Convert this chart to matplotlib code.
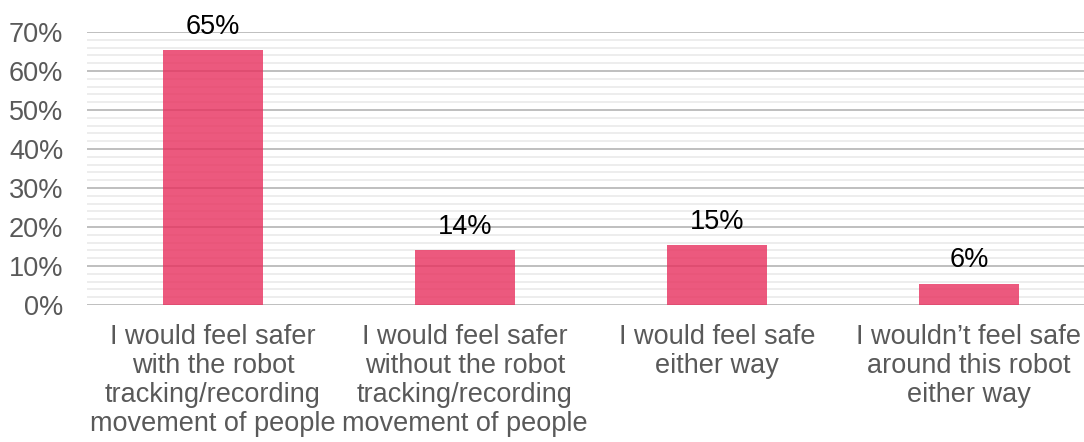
import matplotlib
matplotlib.use("Agg")
import matplotlib.pyplot as plt
from matplotlib.ticker import MultipleLocator, PercentFormatter

plt.rcParams['font.family'] = ['Liberation Sans', 'DejaVu Sans']

categories = [
    "I would feel safer\nwith the robot\ntracking/recording\nmovement of people",
    "I would feel safer\nwithout the robot\ntracking/recording\nmovement of people",
    "I would feel safe\neither way",
    "I wouldn\u2019t feel safe\naround this robot\neither way",
]
values = [65.4, 14.0, 15.3, 5.5]
labels = ["65%", "14%", "15%", "6%"]

fig = plt.figure(figsize=(10.84, 4.42), dpi=100)
ax = fig.add_axes([87 / 1084, 1 - 305 / 442, 1008 / 1084, 273 / 442])

x = range(len(categories))
ax.bar(x, values, width=0.4, color="#E8305E", alpha=0.8, zorder=3)

for xi, v, lab in zip(x, values, labels):
    ax.text(xi, v + 2.6, lab, ha="center", va="bottom", fontsize=19.5, color="black",
            zorder=4, clip_on=False)

ax.set_xlim(-0.5, 3.5)
ax.set_ylim(0, 70)
ax.yaxis.set_major_locator(MultipleLocator(10))
ax.yaxis.set_minor_locator(MultipleLocator(2))
ax.yaxis.set_major_formatter(PercentFormatter(decimals=0))
ax.grid(axis="y", which="major", color="#BFBFBF", linewidth=1.4, zorder=1)
ax.grid(axis="y", which="minor", color="#EDEDED", linewidth=1.4, zorder=0)
ax.set_axisbelow(True)

for s in ax.spines.values():
    s.set_visible(False)

ax.set_xticks(list(x))
ax.set_xticklabels(categories, fontsize=19.5, color="#595959", linespacing=1.15)
ax.tick_params(axis="x", length=0, pad=14)
ax.tick_params(axis="y", which="both", length=0, pad=17, labelsize=19.5, labelcolor="#595959")

fig.savefig("out.png", dpi=100)
